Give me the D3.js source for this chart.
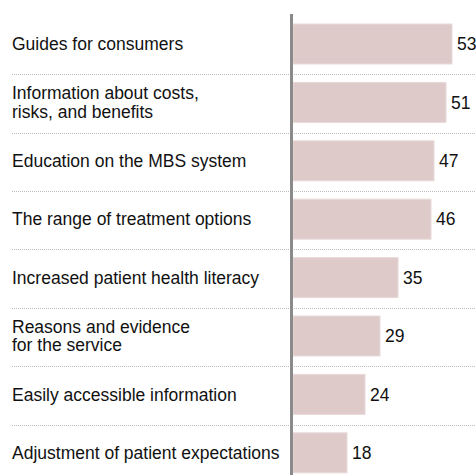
<!DOCTYPE html>
<html>
<head>
<meta charset="utf-8">
<script src="https://cdn.jsdelivr.net/npm/d3@7"></script>
<style>
  body { margin: 0; background: #fff; }
  svg { display: block; font-family: "Liberation Sans", Arial, sans-serif; }
</style>
</head>
<body>
<svg id="chart" width="476" height="475"></svg>
<script>
"use strict";
const categories = [
  ["Guides for consumers"],
  ["Information about costs,", "risks, and benefits"],
  ["Education on the MBS system"],
  ["The range of treatment options"],
  ["Increased patient health literacy"],
  ["Reasons and evidence", "for the service"],
  ["Easily accessible information"],
  ["Adjustment of patient expectations"]
];
const values = [53, 51, 47, 46, 35, 29, 24, 18];

const svg = d3.select("#chart");
const idx = d3.range(values.length);
const fs = 17.5;

const y = d3.scaleBand().domain(idx).range([14.8, 14.8 + 8 * 58.4])
  .paddingInner(0.315).paddingOuter(0.1575);
const x = d3.scaleLinear().domain([0, 53]).range([293, 452]);

// dotted separators between rows
svg.append("g").selectAll("line")
  .data(idx.slice(0, -1))
  .join("line")
  .attr("x1", 12).attr("x2", 476)
  .attr("y1", i => Math.round(y(i) + y.bandwidth() + (y.step() - y.bandwidth()) / 2 + 1) + 0.5)
  .attr("y2", i => Math.round(y(i) + y.bandwidth() + (y.step() - y.bandwidth()) / 2 + 1) + 0.5)
  .attr("stroke", "#bdbdbd").attr("stroke-width", 1).attr("stroke-dasharray", "1,1");

// bars
svg.append("g").selectAll("rect")
  .data(idx)
  .join("rect")
  .attr("x", x(0))
  .attr("y", i => y(i))
  .attr("width", i => x(values[i]) - x(0))
  .attr("height", y.bandwidth())
  .attr("fill", "#dfcaca")
  .attr("stroke", "#e9dada").attr("stroke-width", 1);

// value labels
svg.append("g").selectAll("text")
  .data(idx)
  .join("text")
  .attr("x", i => x(values[i]) + 5)
  .attr("y", i => y(i) + y.bandwidth() / 2)
  .attr("dy", "0.35em")
  .attr("font-size", fs).attr("fill", "#111")
  .text(i => values[i]);

// category labels
const lab = svg.append("g").selectAll("text")
  .data(idx)
  .join("text")
  .attr("x", 12)
  .attr("y", i => y(i) + y.bandwidth() / 2)
  .attr("font-size", fs).attr("fill", "#111");
lab.each(function(i) {
  const lines = categories[i];
  const lh = 18.5;
  d3.select(this).selectAll("tspan")
    .data(lines)
    .join("tspan")
    .attr("x", 12)
    .attr("dy", (d, k) => k === 0 ? (0.35 * fs - (lines.length - 1) * lh / 2) : lh)
    .text(d => d);
});

// vertical axis line
svg.append("line")
  .attr("x1", 291.5).attr("x2", 291.5)
  .attr("y1", 14).attr("y2", 475)
  .attr("stroke", "#8a8a8a").attr("stroke-width", 3);
</script>
</body>
</html>
